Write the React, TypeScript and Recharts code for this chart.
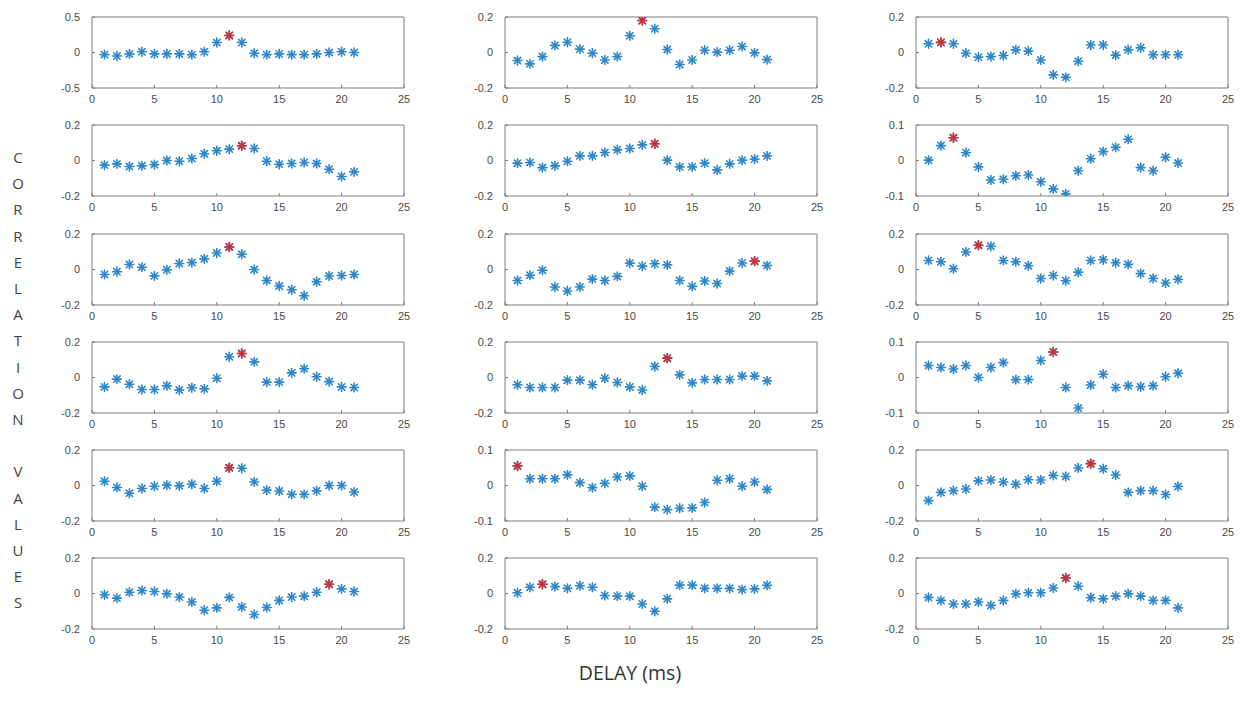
import React from "react";
import { ScatterChart, Scatter, XAxis, YAxis } from "recharts";

const delays = [1, 2, 3, 4, 5, 6, 7, 8, 9, 10, 11, 12, 13, 14, 15, 16, 17, 18, 19, 20, 21];
const xTicks = [0, 5, 10, 15, 20, 25];

const r1c1 = [-0.03, -0.05, -0.02, 0.01, -0.02, -0.02, -0.02, -0.03, 0.01, 0.14, 0.24, 0.14, -0.01, -0.03, -0.02, -0.03, -0.03, -0.02, 0.0, 0.01, 0.0];
const r1c2 = [-0.045, -0.064, -0.023, 0.04, 0.058, 0.019, -0.004, -0.042, -0.023, 0.094, 0.18, 0.134, 0.017, -0.068, -0.042, 0.013, 0.002, 0.013, 0.034, -0.002, -0.04];
const r1c3 = [0.049, 0.057, 0.049, -0.004, -0.026, -0.023, -0.017, 0.015, 0.008, -0.042, -0.126, -0.14, -0.049, 0.042, 0.042, -0.015, 0.015, 0.026, -0.013, -0.013, -0.013];

const r2c1 = [-0.026, -0.019, -0.034, -0.03, -0.023, 0.0, -0.004, 0.011, 0.038, 0.055, 0.064, 0.083, 0.068, -0.004, -0.021, -0.017, -0.011, -0.017, -0.049, -0.09, -0.064];
const r2c2 = [-0.015, -0.011, -0.04, -0.03, -0.004, 0.026, 0.026, 0.045, 0.06, 0.068, 0.088, 0.094, 0.002, -0.036, -0.036, -0.015, -0.053, -0.019, 0.002, 0.008, 0.026];
const r2c3 = [0.001, 0.042, 0.064, 0.022, -0.018, -0.055, -0.053, -0.043, -0.041, -0.06, -0.08, -0.094, -0.029, 0.005, 0.025, 0.037, 0.06, -0.02, -0.029, 0.009, -0.007];

const r3c1 = [-0.028, -0.013, 0.028, 0.013, -0.036, -0.002, 0.034, 0.039, 0.06, 0.093, 0.127, 0.086, 0.0, -0.062, -0.093, -0.114, -0.148, -0.069, -0.037, -0.034, -0.028];
const r3c2 = [-0.062, -0.032, -0.004, -0.099, -0.121, -0.099, -0.054, -0.062, -0.039, 0.036, 0.019, 0.032, 0.026, -0.062, -0.095, -0.065, -0.079, -0.009, 0.037, 0.047, 0.022];
const r3c3 = [0.051, 0.044, 0.004, 0.099, 0.137, 0.131, 0.051, 0.044, 0.021, -0.051, -0.034, -0.063, -0.015, 0.051, 0.055, 0.038, 0.029, -0.023, -0.051, -0.076, -0.055];

const r4c1 = [-0.053, -0.009, -0.038, -0.068, -0.068, -0.047, -0.071, -0.058, -0.064, -0.004, 0.117, 0.135, 0.088, -0.026, -0.026, 0.026, 0.049, 0.004, -0.023, -0.053, -0.056];
const r4c2 = [-0.041, -0.056, -0.056, -0.056, -0.015, -0.015, -0.041, -0.004, -0.028, -0.053, -0.07, 0.062, 0.109, 0.015, -0.03, -0.011, -0.011, -0.011, 0.008, 0.008, -0.019];
const r4c3 = [0.034, 0.028, 0.024, 0.034, 0.0, 0.028, 0.042, -0.006, -0.006, 0.048, 0.072, -0.028, -0.086, -0.021, 0.009, -0.028, -0.023, -0.026, -0.023, 0.002, 0.012];

const r5c1 = [0.024, -0.011, -0.044, -0.017, -0.004, 0.002, -0.002, 0.007, -0.017, 0.024, 0.1, 0.097, 0.02, -0.026, -0.031, -0.05, -0.05, -0.03, 0.0, 0.0, -0.037];
const r5c2 = [0.055, 0.019, 0.019, 0.019, 0.03, 0.008, -0.006, 0.006, 0.024, 0.027, -0.002, -0.061, -0.068, -0.064, -0.063, -0.048, 0.015, 0.019, -0.002, 0.01, -0.011];
const r5c3 = [-0.085, -0.039, -0.029, -0.02, 0.026, 0.031, 0.02, 0.007, 0.033, 0.031, 0.057, 0.051, 0.099, 0.123, 0.094, 0.059, -0.039, -0.029, -0.029, -0.051, -0.006];

const r6c1 = [-0.007, -0.026, 0.007, 0.017, 0.011, -0.002, -0.02, -0.048, -0.094, -0.081, -0.022, -0.076, -0.118, -0.079, -0.039, -0.02, -0.015, 0.007, 0.052, 0.026, 0.011];
const r6c2 = [0.004, 0.035, 0.052, 0.039, 0.029, 0.044, 0.035, -0.011, -0.015, -0.015, -0.059, -0.1, -0.03, 0.047, 0.047, 0.029, 0.029, 0.029, 0.022, 0.026, 0.046];
const r6c3 = [-0.022, -0.039, -0.059, -0.059, -0.048, -0.067, -0.039, -0.002, 0.004, 0.004, 0.031, 0.087, 0.041, -0.024, -0.03, -0.015, -0.002, -0.015, -0.039, -0.039, -0.081];

const panelValues = [
  [r1c1, r1c2, r1c3],
  [r2c1, r2c2, r2c3],
  [r3c1, r3c2, r3c3],
  [r4c1, r4c2, r4c3],
  [r5c1, r5c2, r5c3],
  [r6c1, r6c2, r6c3],
];
const panelLimits = [
  [0.5, 0.2, 0.2],
  [0.2, 0.2, 0.1],
  [0.2, 0.2, 0.2],
  [0.2, 0.2, 0.1],
  [0.2, 0.1, 0.2],
  [0.2, 0.2, 0.2],
];

const yLabelLetters = ["C", "O", "R", "R", "E", "L", "A", "T", "I", "O", "N", "", "V", "A", "L", "U", "E", "S"];
const xTitle = "DELAY (ms)";

const BOX_LEFTS = [92, 505, 916];
const BOX_TOPS = [17, 125, 234, 342, 450, 558];
const BOX_W = 312;
const BOX_H = 71;
const Y_AXIS_W = 45;
const TOP_M = 4;
const X_AXIS_H = 25;

const BLUE = "#2d86c8";
const RED = "#cc2f36";
const AXIS = "#7c7c7c";
const TICK_FONT = { fontSize: 11, fill: "#4a4a4a", fontFamily: "'Liberation Sans', Arial, sans-serif" };

const makeStar = (color: string) => (props: any) => {
  const { cx, cy } = props;
  if (cx == null || cy == null) return <g />;
  const r = 4.4;
  const d = r * 0.72;
  return (
    <g stroke={color} strokeWidth={1.6} strokeLinecap="round">
      <line x1={cx} y1={cy - r} x2={cx} y2={cy + r} />
      <line x1={cx - r} y1={cy} x2={cx + r} y2={cy} />
      <line x1={cx - d} y1={cy - d} x2={cx + d} y2={cy + d} />
      <line x1={cx - d} y1={cy + d} x2={cx + d} y2={cy - d} />
    </g>
  );
};
const BlueStar = makeStar(BLUE);
const RedStar = makeStar(RED);

function Panel({ values, lim, left, top }: { values: number[]; lim: number; left: number; top: number }) {
  const data = delays.map((d, i) => ({ x: d, y: values[i] }));
  let maxI = 0;
  values.forEach((v, i) => {
    if (v > values[maxI]) maxI = i;
  });
  const redData = [data[maxI]];
  const yTicks = [-lim, 0, lim];
  const width = Y_AXIS_W + BOX_W + 1 + 6;
  const height = TOP_M + 1 + BOX_H + X_AXIS_H;
  return (
    <div style={{ position: "absolute", left: left - Y_AXIS_W, top: top - TOP_M - 1 }}>
      <ScatterChart width={width} height={height} margin={{ top: TOP_M, right: 6, bottom: 0, left: 0 }}>
        <XAxis
          xAxisId="b"
          type="number"
          dataKey="x"
          domain={[0, 25]}
          ticks={xTicks}
          allowDataOverflow
          height={X_AXIS_H}
          stroke={AXIS}
          tickSize={-3}
          tickMargin={10}
          tick={TICK_FONT}
          interval={0}
        />
        <XAxis
          xAxisId="t"
          orientation="top"
          type="number"
          dataKey="x"
          domain={[0, 25]}
          ticks={xTicks}
          allowDataOverflow
          height={1}
          stroke={AXIS}
          tickSize={3}
          tick={false}
          interval={0}
        />
        <YAxis
          yAxisId="l"
          type="number"
          dataKey="y"
          domain={[-lim, lim]}
          ticks={yTicks}
          allowDataOverflow
          width={Y_AXIS_W}
          stroke={AXIS}
          tickSize={-3}
          tickMargin={15}
          tick={TICK_FONT}
          tickFormatter={(v: number) => String(v)}
          interval={0}
        />
        <YAxis
          yAxisId="r"
          orientation="right"
          type="number"
          dataKey="y"
          domain={[-lim, lim]}
          ticks={yTicks}
          allowDataOverflow
          width={1}
          stroke={AXIS}
          tickSize={3}
          tick={false}
          interval={0}
        />
        <Scatter xAxisId="b" yAxisId="l" data={data} shape={BlueStar} isAnimationActive={false} />
        <Scatter xAxisId="b" yAxisId="l" data={redData} shape={RedStar} isAnimationActive={false} />
      </ScatterChart>
    </div>
  );
}

export default function App() {
  return (
    <div style={{ position: "absolute", left: 0, top: 0, width: 1243, height: 713, background: "#ffffff", overflow: "hidden" }}>
      {panelValues.map((row, ri) =>
        row.map((vals, ci) => (
          <Panel key={`${ri}-${ci}`} values={vals} lim={panelLimits[ri][ci]} left={BOX_LEFTS[ci]} top={BOX_TOPS[ri]} />
        ))
      )}
      {yLabelLetters.map((ch, i) => (
        <div
          key={i}
          style={{
            position: "absolute",
            left: 8,
            top: 157 - 10 + i * 26.2,
            width: 20,
            height: 20,
            lineHeight: "20px",
            textAlign: "center",
            fontFamily: "'Open Sans', 'Noto Sans', sans-serif",
            fontSize: 15,
            color: "#444",
          }}
        >
          {ch}
        </div>
      ))}
      <div
        style={{
          position: "absolute",
          left: 530,
          top: 661,
          width: 200,
          height: 24,
          lineHeight: "24px",
          textAlign: "center",
          fontFamily: "'Open Sans', 'Noto Sans', sans-serif",
          fontSize: 19.5,
          color: "#333",
        }}
      >
        {xTitle}
      </div>
    </div>
  );
}
